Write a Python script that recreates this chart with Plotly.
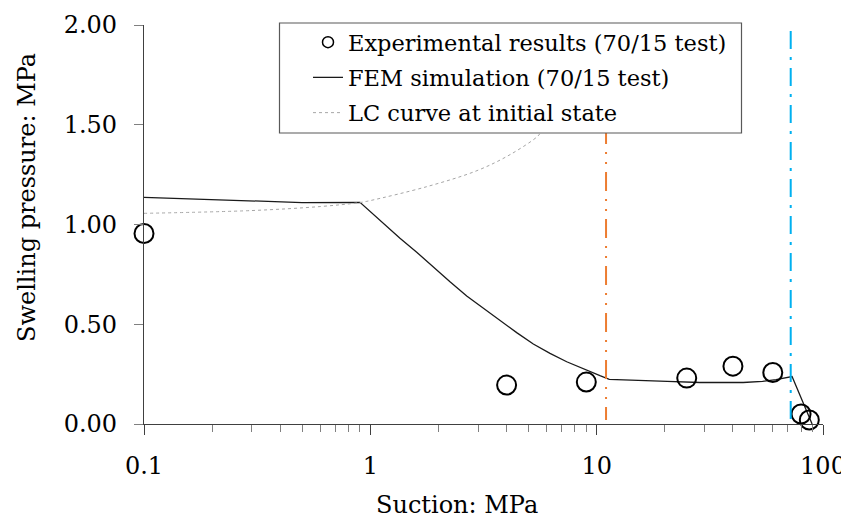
import plotly.graph_objects as go

# ---------------- data ----------------
exp_suction = [0.1, 4, 9, 25, 40, 60, 80, 87]
exp_pressure = [0.955, 0.195, 0.21, 0.23, 0.29, 0.258, 0.05, 0.02]

fem_suction = [0.1, 0.25, 0.5, 0.9, 1.141, 1.352, 1.603, 1.898, 2.249, 2.666, 3.156, 3.741,
               4.433, 5.249, 6.221, 7.374, 8.73, 10.34, 11.37, 14.8, 20.5, 28.6, 44.4, 54,
               62, 73, 89.5]
fem_pressure = [1.136, 1.12, 1.11, 1.111, 1.006, 0.931, 0.861, 0.786, 0.713, 0.642, 0.580, 0.516,
                0.458, 0.401, 0.354, 0.312, 0.276, 0.242, 0.224, 0.218, 0.214, 0.208, 0.208, 0.214,
                0.222, 0.238, 0.0]

lc_suction = [0.1, 0.3, 0.6, 0.9, 1.0, 1.78, 2.96, 4.14, 5.46, 5.65, 6.5, 7.5, 8.5]
lc_pressure = [1.056, 1.07, 1.09, 1.11, 1.12, 1.19, 1.27, 1.35, 1.44, 1.46, 1.56, 1.70, 1.86]

threshold_suctions = [11, 72]
threshold_colors = ["#ED7D31", "#00B0F0"]
threshold_dashes = ["19px,8px,2px,8px,2px,8px", "18px,8px,3px,8px"]
threshold_span = [0.02, 1.97]

x_tickvals = [0.1, 1, 10, 100]
x_ticktext = ["0.1", "1", "10", "100"]
x_minor = [m * d for d in (0.1, 1, 10) for m in range(2, 10)]
y_tickvals = [0, 0.5, 1.0, 1.5, 2.0]

names = ["Experimental results (70/15 test)", "FEM simulation (70/15 test)",
         "LC curve at initial state"]

FONT = "DejaVu Serif"

# page offset (default body margin of the html page)
OFF = 8
W, H = 849 - OFF, 520 - OFF
# plot area in screen pixels of the reference
S_L, S_R, S_T, S_B = 144, 823, 25, 424


def px2x(p):
    return (p - S_L) / (S_R - S_L)


def px2y(p):
    return (S_B - p) / (S_B - S_T)


# ---------------- figure ----------------
fig = go.Figure()

# legend entry for the experimental points (smaller symbol, as in the reference)
fig.add_trace(go.Scatter(
    x=[None], y=[None], mode="markers", name=names[0], legendgroup="a", legendrank=1,
    marker=dict(symbol="circle-open", size=11, color="black", line=dict(width=1.5)),
))
fig.add_trace(go.Scatter(
    x=fem_suction, y=fem_pressure, mode="lines", name=names[1], legendgroup="b", legendrank=2,
    line=dict(color="#1a1a1a", width=1.3),
))
fig.add_trace(go.Scatter(
    x=lc_suction, y=lc_pressure, mode="lines", name=names[2], legendgroup="c", legendrank=3,
    line=dict(color="#a6a6a6", width=1, dash="dot", shape="spline"),
))
fig.add_trace(go.Scatter(
    x=exp_suction, y=exp_pressure, mode="markers", name=names[0], legendgroup="a",
    showlegend=False, cliponaxis=False,
    marker=dict(symbol="circle-open", size=19, color="black", line=dict(width=2)),
))

for xv, col, dsh in zip(threshold_suctions, threshold_colors, threshold_dashes):
    fig.add_shape(type="line", xref="x", yref="y", x0=xv, x1=xv,
                  y0=threshold_span[1], y1=threshold_span[0],
                  line=dict(color=col, width=2, dash=dsh))

# legend box
fig.add_shape(type="rect", xref="paper", yref="paper",
              x0=px2x(279.5), x1=px2x(741.5), y0=px2y(133), y1=px2y(23),
              line=dict(color="#595959", width=1.2), fillcolor="white", layer="above")

fig.update_layout(
    width=W, height=H,
    margin=dict(l=S_L - OFF, r=849 - S_R, t=S_T - OFF, b=520 - S_B, autoexpand=False),
    paper_bgcolor="white", plot_bgcolor="white",
    font=dict(family=FONT, size=24, color="black"),
    showlegend=True,
    legend=dict(
        x=px2x(308), y=px2y(21), xanchor="left", yanchor="top",
        bgcolor="rgba(0,0,0,0)", borderwidth=0,
        font=dict(family=FONT, size=22.5, color="black"),
        itemsizing="trace", tracegroupgap=3, traceorder="grouped",
    ),
    xaxis=dict(
        type="log", range=[-1, 2], automargin=False,
        tickvals=x_tickvals, ticktext=x_ticktext,
        ticks="outside", ticklen=10, tickcolor="#404040", tickwidth=1.2,
        showline=True, linecolor="#404040", linewidth=1.2,
        showgrid=False, zeroline=False,
        minor=dict(tickvals=x_minor, ticks="outside", ticklen=7,
                   tickcolor="#808080", tickwidth=1.2, showgrid=False),
        tickfont=dict(family=FONT, size=24),
        ticklabelstandoff=10,
    ),
    yaxis=dict(
        range=[0, 2], tickvals=y_tickvals, tickformat=".2f", automargin=False,
        ticks="outside", ticklen=9, tickcolor="#808080", tickwidth=1.2,
        showline=True, linecolor="#404040", linewidth=1.2,
        showgrid=False, zeroline=False,
        tickfont=dict(family=FONT, size=24),
        ticklabelstandoff=12,
    ),
    annotations=[
        dict(text="Suction: MPa", xref="paper", yref="paper",
             x=px2x(457), y=px2y(505), showarrow=False,
             xanchor="center", yanchor="middle",
             font=dict(family=FONT, size=24)),
        dict(text="Swelling pressure: MPa", xref="paper", yref="paper",
             x=px2x(27), y=px2y(198), showarrow=False, textangle=-90,
             xanchor="center", yanchor="middle",
             font=dict(family=FONT, size=24)),
    ],
)

fig.write_html("out.html")
